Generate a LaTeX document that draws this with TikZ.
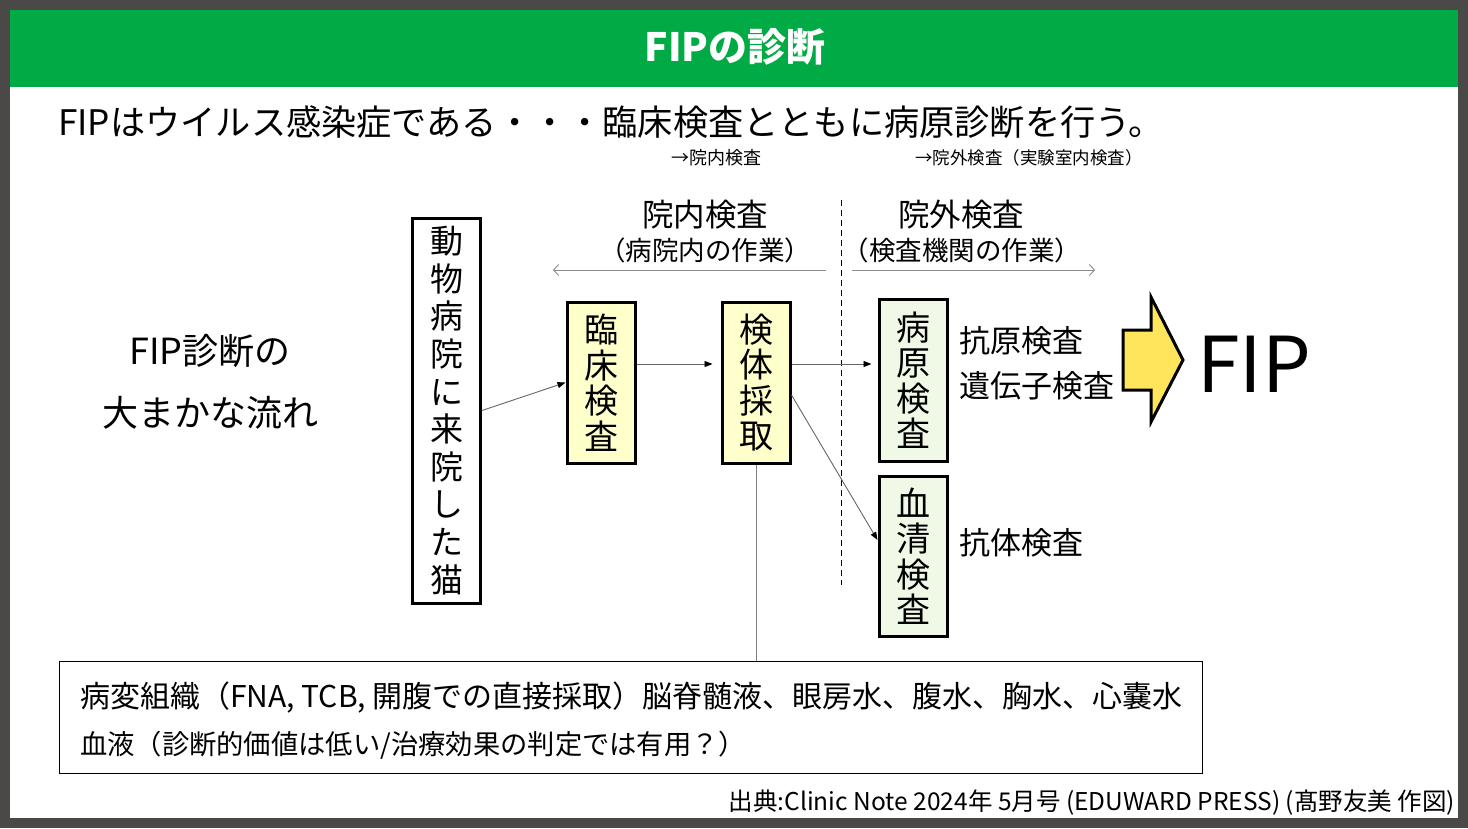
\documentclass[tikz,border=0pt]{standalone}
\usepackage{fontspec}
\setmainfont{Noto Sans CJK JP}
\usetikzlibrary{arrows.meta}
\definecolor{frame}{HTML}{4B4848}
\definecolor{hdr}{HTML}{00AA44}
\definecolor{paleyellow}{HTML}{FFFFCC}
\definecolor{palegreen}{HTML}{F0F8E6}
\definecolor{arrowyellow}{HTML}{FFE55C}
\begin{document}
\begin{tikzpicture}[x=1pt,y=-1pt,
  vbox/.style={draw=black, line width=3pt, inner sep=0pt, align=center, minimum width=68pt},
  conn/.style={draw=black!60, line width=0.9pt, -{Triangle[length=8pt,width=6pt,color=black]}},
  span/.style={draw=black!45, line width=0.9pt, -{Straight Barb[length=5pt,width=11pt]}},
  lbl/.style={inner sep=0pt, anchor=west}
]
\useasboundingbox (0,0) rectangle (1468,828);
\fill[frame] (0,0) rectangle (1468,828);
\fill[white] (10,10) rectangle (1458,818);
\fill[hdr] (10,10) rectangle (1458,87);
\node[text=white, font=\fontsize{39}{44}\selectfont\bfseries] (title) at (735,47) {FIPの診断};

\node[lbl, font=\fontsize{35.2}{40}\selectfont] (sub) at (58,122) {FIPはウイルス感染症である・・・臨床検査とともに病原診断を行う。};
\node[lbl, font=\fontsize{18}{22}\selectfont] (note1) at (671,158) {→院内検査};
\node[lbl, font=\fontsize{17.5}{22}\selectfont] (note2) at (915,158) {→院外検査（実験室内検査）};

\node[font=\fontsize{31.5}{36}\selectfont, inner sep=0pt] (inh) at (705,215) {院内検査};
\node[font=\fontsize{26.5}{30}\selectfont, inner sep=0pt] (inhs) at (705,250) {（病院内の作業）};
\node[font=\fontsize{31.5}{36}\selectfont, inner sep=0pt] (outh) at (961,215) {院外検査};
\node[font=\fontsize{26.5}{30}\selectfont, inner sep=0pt] (ouths) at (962,250) {（検査機関の作業）};

\coordinate (lA) at (826,270); \coordinate (lB) at (553,270);
\coordinate (rA) at (852,270); \coordinate (rB) at (1095,270);
\draw[span] (lA) -- (lB);
\draw[span] (rA) -- (rB);
\coordinate (dT) at (841,200); \coordinate (dB) at (841,585);
\draw[dashed, line width=1pt, dash pattern=on 6pt off 4pt] (dT) -- (dB);

\node[font=\fontsize{36}{40}\selectfont, align=center, inner sep=0pt] (flow) at (210,382) {FIP診断の\\[22pt]大まかな流れ};

\node[vbox, fill=white, minimum height=385pt, font=\fontsize{33}{37.6}\selectfont] (visit) at (446.5,410.5) {動\\物\\病\\院\\に\\来\\院\\し\\た\\猫};
\node[vbox, fill=paleyellow, minimum height=161pt, font=\fontsize{34}{35.5}\selectfont] (clin) at (601,382.5) {臨\\床\\検\\査};
\node[vbox, fill=paleyellow, minimum height=161pt, font=\fontsize{34}{35.5}\selectfont] (spec) at (756,382.5) {検\\体\\採\\取};
\node[vbox, fill=palegreen, minimum height=162pt, font=\fontsize{34}{35.5}\selectfont] (path) at (913,380) {病\\原\\検\\査};
\node[vbox, fill=palegreen, minimum height=160pt, font=\fontsize{34}{35.5}\selectfont] (serum) at (913,556) {血\\清\\検\\査};

\node[lbl, font=\fontsize{31}{36}\selectfont] (ag) at (959,341) {抗原検査};
\node[lbl, font=\fontsize{31}{36}\selectfont] (gene) at (959,386) {遺伝子検査};
\node[lbl, font=\fontsize{31}{36}\selectfont] (ab) at (959,543) {抗体検査};

\draw[fill=arrowyellow, line width=3pt, line join=miter] (1123,330) -- (1151,330) -- (1151,297) -- (1183,360) -- (1151,422) -- (1151,390) -- (1123,390) -- cycle;
\node[lbl, font=\fontsize{77}{80}\selectfont] (fip) at (1197,364) {FIP};

\draw[conn] (visit.east) -- (clin.west);
\draw[conn] ([yshift=18.5pt]clin.east) -- ([yshift=18.5pt,xshift=-8pt]spec.west);
\draw[conn] ([yshift=18.5pt]spec.east) -- ([yshift=16pt,xshift=-6pt]path.west);
\draw[conn] ([yshift=-12.5pt]spec.east) -- ([yshift=16pt]serum.west);

\node[draw=black, line width=1.2pt, minimum width=1143pt, minimum height=112pt, anchor=north west, inner sep=0pt] (bottom) at (59,661) {};
\draw[draw=black!50, line width=0.9pt] (spec.south) -- (spec.south |- bottom.north);
\node[lbl, font=\fontsize{30}{34}\selectfont] (l1) at (80,697) {病変組織（FNA, TCB, 開腹での直接採取）脳脊髄液、眼房水、腹水、胸水、心嚢水};
\node[lbl, font=\fontsize{27.3}{32}\selectfont] (l2) at (80,745) {血液（診断的価値は低い/治療効果の判定では有用？）};

\node[inner sep=0pt, anchor=east, font=\fontsize{24.5}{28}\selectfont] (cite) at (1455,803) {出典:Clinic Note 2024年 5月号 (EDUWARD PRESS) (髙野友美 作図)};
\end{tikzpicture}
\end{document}
